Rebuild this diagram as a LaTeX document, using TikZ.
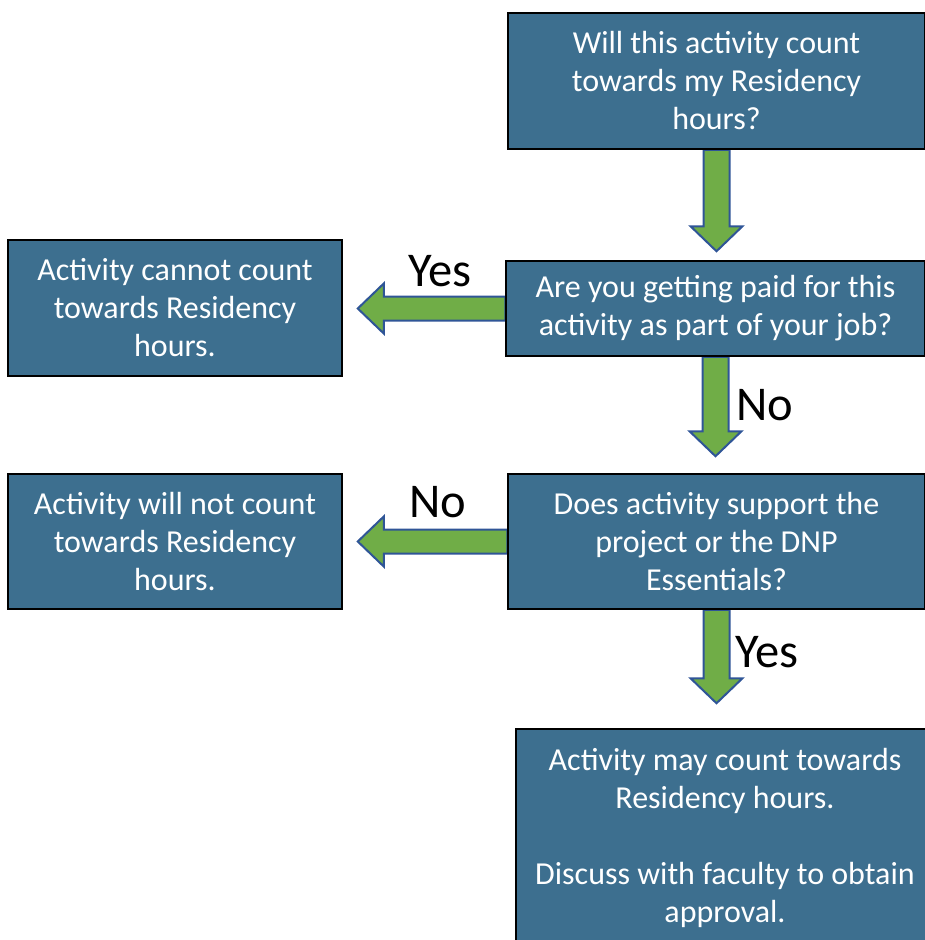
\documentclass[tikz,border=0pt]{standalone}
\usepackage{fontspec}
\setmainfont{Carlito}
\usetikzlibrary{calc,backgrounds}
\definecolor{boxblue}{RGB}{61,111,143}
\definecolor{arrowgreen}{RGB}{112,173,71}
\definecolor{arrowline}{RGB}{47,85,151}
\tikzset{
  flowbox/.style={draw=black, line width=1.5pt, fill=boxblue, text=white, align=center,
    font=\fontsize{32}{38}\selectfont, inner sep=0pt},
  fatarrow/.style={draw=arrowline, line width=2pt, fill=arrowgreen, line join=miter},
  answer/.style={font=\fontsize{48.5}{54}\selectfont, anchor=base, inner sep=0pt}
}
% block arrow from the bottom of a box down to a tip
\newcommand{\downfat}[2]{%
  \draw[fatarrow] ($(#1.south)+(-13,0)$) -- ($(#2)+(-13,-25)$) -- ($(#2)+(-26,-25)$) -- (#2)
    -- ($(#2)+(26,-25)$) -- ($(#2)+(13,-25)$) -- ($(#1.south)+(13,0)$) -- cycle;
}
% block arrow from the left side of a box to a tip
\newcommand{\leftfat}[2]{%
  \draw[fatarrow] ($(#1.west)+(0,-12)$) -- ($(#2)+(26,-12)$) -- ($(#2)+(26,-25)$) -- (#2)
    -- ($(#2)+(26,25)$) -- ($(#2)+(26,12)$) -- ($(#1.west)+(0,12)$) -- cycle;
}
\begin{document}
\begin{tikzpicture}[x=1pt, y=-1pt]
  \useasboundingbox (0,0) rectangle (925,940);

  % Question boxes (right column)
  \node[flowbox, minimum width=417pt, minimum height=136pt] (q1) at (716.5, 81)
    {Will this activity count\\towards my Residency\\hours?};
  \node[flowbox, minimum width=419pt, minimum height=95pt] (q2) at (715.5, 308.5)
    {Are you getting paid for this\\activity as part of your job?};
  \node[flowbox, minimum width=417pt, minimum height=135pt] (q3) at (716.5, 541.5)
    {Does activity support the\\project or the DNP\\Essentials?};
  \node[flowbox, minimum width=418pt, minimum height=217pt] (res) at (725, 837.5)
    {Activity may count towards\\Residency hours.\\[38pt]Discuss with faculty to obtain\\approval.};

  % Outcome boxes (left column)
  \node[flowbox, minimum width=334pt, minimum height=136pt] (no1) at (175, 308)
    {Activity cannot count\\towards Residency\\hours.};
  \node[flowbox, minimum width=334pt, minimum height=135pt] (no2) at (175, 541.5)
    {Activity will not count\\towards Residency\\hours.};

  % Arrow tips
  \coordinate (t1) at ($(q1.south |- q2.north)+(0,-9)$);
  \coordinate (t2) at ($(q2.south |- q3.north)+(0,-17)$);
  \coordinate (t3) at ($(q3.south |- res.north)+(0,-25)$);
  \coordinate (t4) at ($(no1.east |- q2.west)+(15,0)$);
  \coordinate (t5) at ($(no2.east |- q3.west)+(15,0)$);

  % Block arrows behind the boxes
  \begin{scope}[on background layer]
    \downfat{q1}{t1}
    \downfat{q2}{t2}
    \downfat{q3}{t3}
    \leftfat{q2}{t4}
    \leftfat{q3}{t5}
  \end{scope}

  % Answers
  \node[answer] (a1) at (440, 286) {Yes};
  \node[answer] (a2) at (765, 420) {No};
  \node[answer] (a3) at (438, 517) {No};
  \node[answer] (a4) at (767, 667) {Yes};
\end{tikzpicture}
\end{document}
